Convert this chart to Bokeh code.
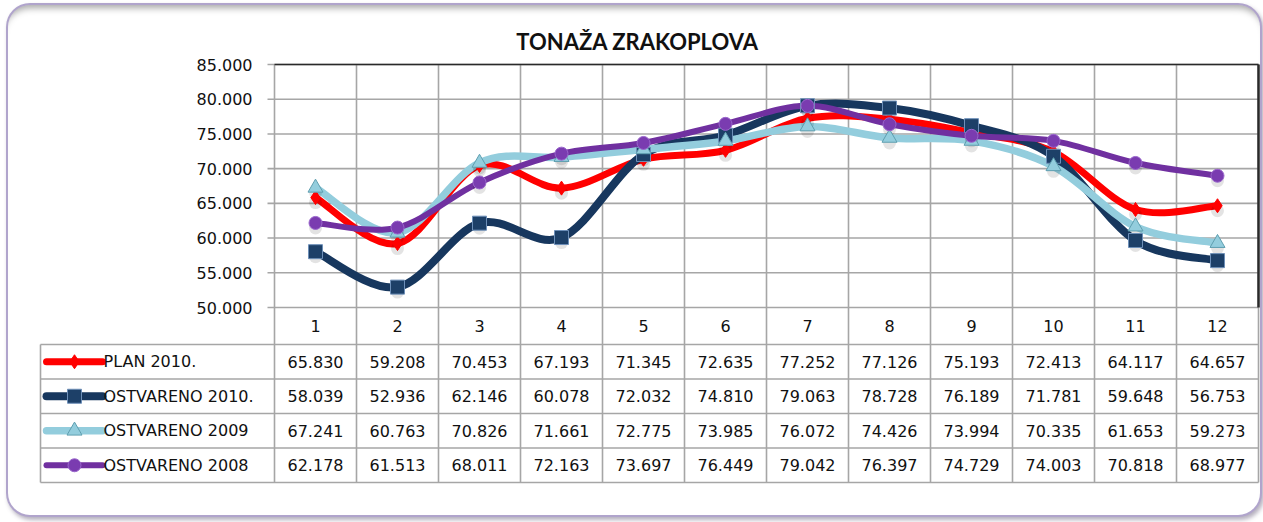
import numpy as np
from bokeh.plotting import figure
from bokeh.models import Range1d, ColumnDataSource
from bokeh.embed import file_html
from bokeh.resources import INLINE
from bokeh.core.properties import value

# ---------------- data ----------------
months = ["1", "2", "3", "4", "5", "6", "7", "8", "9", "10", "11", "12"]
series_names = ["PLAN 2010.", "OSTVARENO 2010.", "OSTVARENO 2009", "OSTVARENO 2008"]
plan_2010 = [65.830, 59.208, 70.453, 67.193, 71.345, 72.635, 77.252, 77.126, 75.193, 72.413, 64.117, 64.657]
ostvareno_2010 = [58.039, 52.936, 62.146, 60.078, 72.032, 74.810, 79.063, 78.728, 76.189, 71.781, 59.648, 56.753]
ostvareno_2009 = [67.241, 60.763, 70.826, 71.661, 72.775, 73.985, 76.072, 74.426, 73.994, 70.335, 61.653, 59.273]
ostvareno_2008 = [62.178, 61.513, 68.011, 72.163, 73.697, 76.449, 79.042, 76.397, 74.729, 74.003, 70.818, 68.977]
y_ticks = [50, 55, 60, 65, 70, 75, 80, 85]
title_text = "TONAŽA ZRAKOPLOVA"

series = [plan_2010, ostvareno_2010, ostvareno_2009, ostvareno_2008]

# ---------------- styles ----------------
colors = ["#ff0000", "#17375e", "#93cddd", "#7030a0"]
line_widths = [7, 8, 7.5, 6]
marker_types = ["diamond", "square", "triangle", "circle"]
marker_sizes = [14, 14, 15, 13]
marker_fill = ["#ff0000", "#1d4068", "#93cddd", "#7a3cb0"]
marker_line = ["#ff0000", "#6d8fb8", "#5f9fb0", "#9a66cc"]
GRID = "#a6a6a6"
FONT = "DejaVu Sans"
TXT = "#111111"

# ---------------- layout (page pixels) ----------------
PAGE_L, PAGE_T = 8, 5       # figure placed via layout margin
W, H = 1252, 510
CH_L, CH_R = 274, 1258      # chart frame left/right
CH_T, CH_B = 64, 307        # chart frame top (85) / bottom (50)
ppu = (CH_R - CH_L) / 12.0
ppv = (CH_B - CH_T) / float(y_ticks[-1] - y_ticks[0])


def X(px):
    return 0.5 + (px - CH_L) / ppu


def Y(py):
    return y_ticks[0] + (CH_B - py) / ppv


x_idx = np.arange(1, 13)

p = figure(width=W, height=H, output_backend="svg", toolbar_location=None,
           x_range=Range1d(X(PAGE_L), X(PAGE_L + W)),
           y_range=Range1d(Y(PAGE_T + H), Y(PAGE_T)),
           x_axis_location=None, y_axis_location=None,
           min_border=0, min_border_left=0, min_border_right=0,
           min_border_top=0, min_border_bottom=0)
p.margin = (PAGE_T, 0, 0, PAGE_L)
p.grid.visible = False
p.outline_line_color = None
p.border_fill_color = None
p.background_fill_color = None
p.styles = {"background-color": "white",
            "border-radius": "22px",
            "box-shadow": "0 0 0 2px #b0a4cc, 2px 3px 4px 2px rgba(90,80,110,0.45), "
                          "inset 0 9px 7px -6px rgba(0,0,0,0.35)"}

# ---- title ----
p.text(x=[X(637)], y=[Y(41)], text=[title_text], text_align="center",
       text_baseline="middle", text_font=value("Lato"), text_font_size="22px",
       text_font_style="bold", text_color=TXT)

# ---- table geometry ----
TB_L = 40
header_bottom = 344
row_h = 34.5
row_bounds = [header_bottom + k * row_h for k in range(5)]
TB_B = row_bounds[-1]
row_centers = [row_bounds[k] + row_h / 2 for k in range(4)]

# ---- grid: horizontal chart gridlines with ticks ----
gx, gy = [], []
for tv in y_ticks:
    gx.append([X(CH_L - 7), 12.5]); gy.append([tv, tv])
# column lines through chart and table
for b in np.arange(0.5, 13, 1.0):
    gx.append([b, b]); gy.append([y_ticks[-1], Y(TB_B)])
# table left border and horizontal rules
gx.append([X(TB_L), X(TB_L)]); gy.append([Y(header_bottom), Y(TB_B)])
for rb in row_bounds:
    gx.append([X(TB_L), 12.5]); gy.append([Y(rb), Y(rb)])
p.multi_line(gx, gy, line_color=GRID, line_width=1.6)
# darker top / right frame edges of the chart
p.multi_line([[0.5, 12.5], [12.5, 12.5]], [[y_ticks[-1], y_ticks[-1]], [y_ticks[-1], y_ticks[0]]],
             line_color="#2a2a2a", line_width=[1.5, 2.5])

# ---- y tick labels ----
p.text(x=[X(252)] * len(y_ticks), y=y_ticks, text=[f"{v:.3f}" for v in y_ticks],
       text_align="right", text_baseline="middle", text_font=value(FONT),
       text_font_size="16px", text_color=TXT)

# ---- smooth (Catmull-Rom -> Bezier) lines ----
for vals, col, lw in zip(series, colors, line_widths):
    y = np.array(vals, dtype=float)
    x = x_idx.astype(float)
    xp = np.concatenate([[x[0]], x, [x[-1]]])
    yp = np.concatenate([[y[0]], y, [y[-1]]])
    x0, y0 = x[:-1], y[:-1]
    x1, y1 = x[1:], y[1:]
    cx0 = x0 + (xp[2:-1] - xp[:-3]) / 6.0
    cy0 = y0 + (yp[2:-1] - yp[:-3]) / 6.0
    cx1 = x1 - (xp[3:] - xp[1:-2]) / 6.0
    cy1 = y1 - (yp[3:] - yp[1:-2]) / 6.0
    src = ColumnDataSource(dict(x0=x0, y0=y0, x1=x1, y1=y1,
                                cx0=cx0, cy0=cy0, cx1=cx1, cy1=cy1))
    p.bezier(x0="x0", y0="y0", x1="x1", y1="y1", cx0="cx0", cy0="cy0",
             cx1="cx1", cy1="cy1", source=src, line_color=col, line_width=lw,
             line_cap="round")

# ---- marker shadows and markers ----
shadow_dy = 5 / ppv
for vals in series:
    p.scatter(x_idx, [v - shadow_dy for v in vals], marker="circle", size=13,
              fill_color="black", fill_alpha=0.11, line_color=None)
for vals, mt, ms, mf, ml in zip(series, marker_types, marker_sizes, marker_fill, marker_line):
    p.scatter(x_idx, vals, marker=mt, size=ms, fill_color=mf, line_color=ml, line_width=1)

# ---- table header (month numbers) ----
p.text(x=x_idx, y=[Y((CH_B + header_bottom) / 2)] * 12, text=months,
       text_align="center", text_baseline="middle", text_font=value(FONT),
       text_font_size="16px", text_color=TXT)

# ---- table values ----
for vals, rc in zip(series, row_centers):
    p.text(x=x_idx, y=[Y(rc)] * 12, text=[f"{v:.3f}" for v in vals],
           text_align="center", text_baseline="middle", text_font=value(FONT),
           text_font_size="16px", text_color=TXT)

# ---- legend keys in the table ----
for name, rc, col, lw, mt, ms, mf, ml in zip(series_names, row_centers, colors, line_widths,
                                              marker_types, marker_sizes, marker_fill, marker_line):
    p.line([X(46), X(102)], [Y(rc), Y(rc)], line_color=col, line_width=lw, line_cap="round")
    p.scatter([X(74)], [Y(rc)], marker=mt, size=ms, fill_color=mf, line_color=ml, line_width=1)
    p.text(x=[X(103)], y=[Y(rc)], text=[name], text_align="left", text_baseline="middle",
           text_font=value(FONT), text_font_size="16px", text_color=TXT)

open("out.html", "w").write(file_html(p, INLINE))
